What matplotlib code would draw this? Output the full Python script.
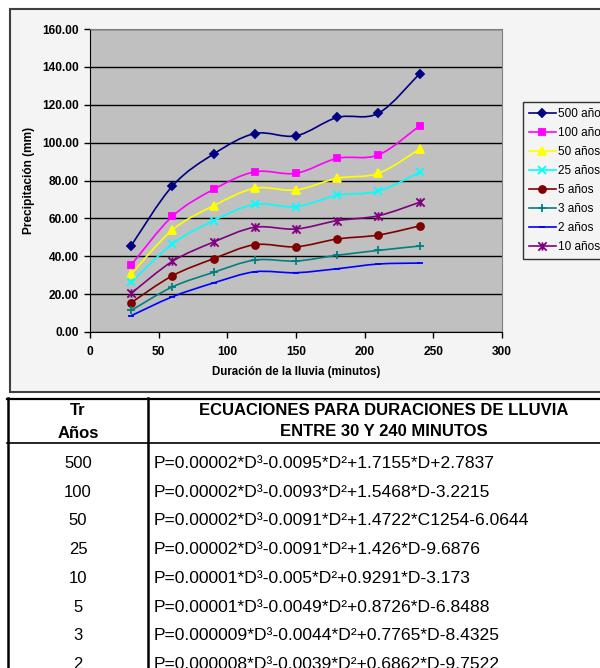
import matplotlib
matplotlib.use("Agg")
import matplotlib.pyplot as plt
from matplotlib.path import Path
from matplotlib.patches import PathPatch, Rectangle
from matplotlib.lines import Line2D

plt.rcParams['font.family'] = ['Liberation Sans', 'DejaVu Sans']

# duracion de la lluvia (minutos)
durations = [30, 60, 90, 120, 150, 180, 210, 240]

# precipitacion (mm) por periodo de retorno
p500 = [45.6, 77.1, 94.0, 104.8, 103.6, 113.3, 115.5, 136.4]
p100 = [35.4, 61.1, 75.3, 84.6, 83.8, 91.7, 93.5, 108.9]
p50 = [30.6, 53.9, 66.7, 75.9, 75.0, 81.2, 83.8, 96.6]
p25 = [26.2, 46.5, 58.8, 67.4, 66.2, 72.2, 74.4, 84.3]
p5 = [15.5, 29.7, 38.7, 46.1, 45.0, 49.1, 51.2, 56.0]
p3 = [11.4, 23.8, 31.5, 38.0, 37.5, 40.5, 43.1, 45.4]
p2 = [8.6, 18.6, 25.9, 31.8, 31.3, 33.4, 35.9, 36.4]
p10 = [20.4, 37.3, 47.5, 55.3, 54.4, 58.8, 61.4, 68.5]

legend_labels = ["500 años", "100 años", "50 años", "25 años",
                 "5 años", "3 años", "2 años", "10 años"]

table_tr = ["500", "100", "50", "25", "10", "5", "3", "2"]
table_eq = [
    "P=0.00002*D³-0.0095*D²+1.7155*D+2.7837",
    "P=0.00002*D³-0.0093*D²+1.5468*D-3.2215",
    "P=0.00002*D³-0.0091*D²+1.4722*C1254-6.0644",
    "P=0.00002*D³-0.0091*D²+1.426*D-9.6876",
    "P=0.00001*D³-0.005*D²+0.9291*D-3.173",
    "P=0.00001*D³-0.0049*D²+0.8726*D-6.8488",
    "P=0.000009*D³-0.0044*D²+0.7765*D-8.4325",
    "P=0.000008*D³-0.0039*D²+0.6862*D-9.7522",
]

# Excel "star" marker: an X with a vertical bar
star = Path([(-1, -1), (1, 1), (-1, 1), (1, -1), (0, -1), (0, 1)],
            [Path.MOVETO, Path.LINETO, Path.MOVETO, Path.LINETO,
             Path.MOVETO, Path.LINETO])

styles = [
    ("#000080", "D", 4.5),
    ("#FF00FF", "s", 5),
    ("#FFFF00", "^", 5.5),
    ("#00FFFF", "x", 5.5),
    ("#800000", "o", 5),
    ("#008080", "+", 6),
    ("#0000FF", "_", 4),
    ("#800080", star, 6),
]
series = [p500, p100, p50, p25, p5, p3, p2, p10]

W, H = 600, 668


def fx(px):
    return px / W


def fy(py):
    return 1 - py / H


def smooth_path(xs, ys):
    """Excel-like smoothed line through the points (cubic Bezier)."""
    pts = list(zip(xs, ys))
    verts = [pts[0]]
    codes = [Path.MOVETO]
    n = len(pts)
    for i in range(n - 1):
        p0 = pts[i - 1] if i > 0 else pts[i]
        p1 = pts[i]
        p2 = pts[i + 1]
        p3 = pts[i + 2] if i + 2 < n else pts[i + 1]
        c1 = (p1[0] + (p2[0] - p0[0]) / 6, p1[1] + (p2[1] - p0[1]) / 6)
        c2 = (p2[0] - (p3[0] - p1[0]) / 6, p2[1] - (p3[1] - p1[1]) / 6)
        verts += [c1, c2, p2]
        codes += [Path.CURVE4] * 3
    return Path(verts, codes)


fig = plt.figure(figsize=(6, 6.68), dpi=100)

# chart area box
fig.patches.append(Rectangle((fx(10), fy(392)), 1.0, fy(9) - fy(392),
                             transform=fig.transFigure, facecolor="#f4f4f4",
                             edgecolor="#404040", linewidth=1.5, zorder=-5))

ax = fig.add_axes([fx(90), fy(332), fx(502) - fx(90), fy(29) - fy(332)])
ax.set_zorder(2)
ax.set_facecolor("#c0c0c0")
ax.set_xlim(0, 300)
ax.set_ylim(0, 160)
ax.set_xticks(range(0, 301, 50))
ax.set_yticks(range(0, 161, 20))
ax.set_yticklabels(["%.2f" % v for v in range(0, 161, 20)])
ax.grid(axis="y", color="black", linewidth=1)
ax.set_axisbelow(True)
for side in ["top", "right"]:
    ax.spines[side].set_color("#808080")
for side in ["left", "bottom"]:
    ax.spines[side].set_color("black")
ax.tick_params(direction="out", length=4, width=1, labelsize=8.6, pad=4)
ax.tick_params(axis="x", pad=6)
for lab in ax.get_xticklabels() + ax.get_yticklabels():
    lab.set_fontweight("bold")
ax.set_xlabel("Duración de la lluvia (minutos)", fontsize=8.3, fontweight="bold",
              labelpad=6)
ax.set_ylabel("Precipitación (mm)", fontsize=8.6, fontweight="bold", labelpad=5)

handles = []
for vals, (color, marker, ms) in zip(series, styles):
    ax.add_patch(PathPatch(smooth_path(durations, vals), fill=False,
                           edgecolor=color, linewidth=1.2, zorder=3))
    ax.plot(durations, vals, linestyle="none", marker=marker, color=color,
            markersize=ms, markeredgewidth=1.3, zorder=4)
    handles.append(Line2D([], [], color=color, marker=marker, markersize=ms,
                          markeredgewidth=1.3, linewidth=1.2))

leg = fig.legend(handles, legend_labels, loc="upper left",
                 bbox_to_anchor=(fx(523), fy(102)), fontsize=8.5,
                 frameon=True, fancybox=False, numpoints=1,
                 handlelength=2.3, handletextpad=0.2, labelspacing=0.6,
                 borderpad=0.5, borderaxespad=0)
leg.get_frame().set_edgecolor("black")
leg.get_frame().set_facecolor("#f4f4f4")
leg.get_frame().set_linewidth(1.0)
leg.set_zorder(3)

# table below the chart
def hline(py, x0, x1, lw):
    fig.add_artist(Line2D([fx(x0), fx(x1)], [fy(py), fy(py)],
                          transform=fig.transFigure, color="black", linewidth=lw))


def vline(px, y0, y1, lw):
    fig.add_artist(Line2D([fx(px), fx(px)], [fy(y0), fy(y1)],
                          transform=fig.transFigure, color="black", linewidth=lw))


hline(398.5, 7, 600, 1.6)
hline(442.5, 7, 600, 1.2)
vline(8, 398, 668, 1.8)
vline(148, 398, 668, 1.8)

hdr = dict(ha="center", va="baseline", fontsize=12, fontweight="bold")
fig.text(fx(78), fy(415), "Tr", **hdr)
fig.text(fx(78), fy(438), "Años", **hdr)
fig.text(fx(384), fy(415), "ECUACIONES PARA DURACIONES DE LLUVIA", **hdr)
fig.text(fx(384), fy(436), "ENTRE 30 Y 240 MINUTOS", **hdr)

for i, (tr, eq) in enumerate(zip(table_tr, table_eq)):
    y = 468 + i * 28.7
    fig.text(fx(78), fy(y), tr, ha="center", va="baseline", fontsize=12)
    fig.text(fx(154), fy(y), eq, ha="left", va="baseline", fontsize=12.6)

fig.savefig("out.png", dpi=100)
